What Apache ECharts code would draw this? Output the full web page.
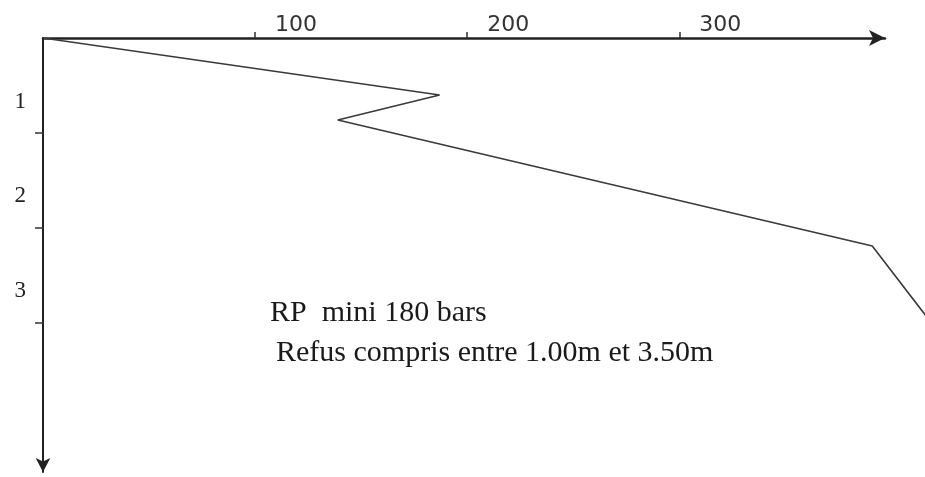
<!DOCTYPE html>
<html>
<head>
<meta charset="utf-8">
<script src="https://cdn.jsdelivr.net/npm/echarts@6/dist/echarts.min.js"></script>
<style>
  html, body { margin: 0; padding: 0; background: #fff; }
  #main { width: 925px; height: 477px; }
</style>
</head>
<body>
<div id="main"></div>
<script>
// pressure (bars) read along the top axis, depth (m) down the left axis
var pressure = [0, 187, 139, 391, 423];
var depth = [0, 0.6, 0.863, 2.19, 3.12];
var xTicks = [100, 200, 300];
var yTicks = [1, 2, 3];
var notes = ['RP  mini 180 bars', 'Refus compris entre 1.00m et 3.50m'];

var axisMax = 397,
  depthMax = 4.57,
  // the curve runs past the arrow to the page edge, so it sits on a wider twin grid
  plotMax = axisMax * (925 - 43) / (885 - 43);

var myChart = echarts.init(document.getElementById('main'));
var option = {
  backgroundColor: '#fff',
  animation: false,
  grid: [{
    left: 43,
    right: 40,
    top: 38,
    bottom: 5
  }, {
    left: 43,
    right: 0,
    top: 38,
    bottom: 5
  }],
  xAxis: [{
    type: 'value',
    gridIndex: 0,
    position: 'top',
    min: 0,
    max: axisMax,
    interval: 100,
    splitLine: { show: false },
    axisLine: {
      lineStyle: { color: '#222', width: 2.5 },
      symbol: ['none', 'arrow'],
      symbolSize: [12, 16]
    },
    axisTick: {
      length: 6,
      customValues: xTicks,
      lineStyle: { color: '#333', width: 1.5 }
    },
    axisLabel: {
      customValues: xTicks,
      color: '#333',
      fontFamily: 'DejaVu Sans',
      fontSize: 22,
      align: 'left',
      padding: [0, 0, 0, 20],
      margin: 2
    }
  }, {
    type: 'value',
    gridIndex: 1,
    show: false,
    min: 0,
    max: plotMax
  }],
  yAxis: [{
    type: 'value',
    gridIndex: 0,
    inverse: true,
    min: 0,
    max: depthMax,
    interval: 1,
    splitLine: { show: false },
    axisLine: {
      lineStyle: { color: '#222', width: 2 },
      symbol: ['arrow', 'none'],
      symbolSize: [11, 14]
    },
    axisTick: {
      length: 8,
      customValues: yTicks,
      lineStyle: { color: '#333', width: 1.5 }
    },
    axisLabel: {
      customValues: yTicks,
      color: '#222',
      fontFamily: 'Liberation Serif',
      fontSize: 23,
      verticalAlign: 'bottom',
      padding: [0, 0, 20, 0],
      margin: 17
    }
  }, {
    type: 'value',
    gridIndex: 1,
    show: false,
    inverse: true,
    min: 0,
    max: depthMax
  }],
  series: [{
    type: 'line',
    xAxisIndex: 1,
    yAxisIndex: 1,
    data: pressure.map(function (p, i) { return [p, depth[i]]; }),
    symbol: 'none',
    lineStyle: { color: '#3a3a3a', width: 1.6 }
  }],
  graphic: [{
    type: 'text',
    left: 270,
    top: 298,
    style: {
      text: notes[0],
      font: '30px "Liberation Serif"',
      fill: '#1a1a1a'
    }
  }, {
    type: 'text',
    left: 276,
    top: 338,
    style: {
      text: notes[1],
      font: '30px "Liberation Serif"',
      fill: '#1a1a1a'
    }
  }]
};
myChart.setOption(option);
</script>
</body>
</html>
